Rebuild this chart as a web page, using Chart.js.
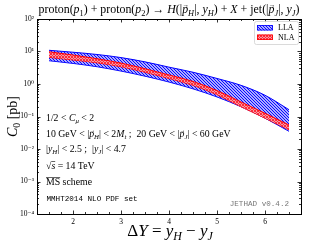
<!DOCTYPE html>
<html>
<head>
<meta charset="utf-8">
<script src="https://cdn.jsdelivr.net/npm/chart.js@4.4.1/dist/chart.umd.min.js"></script>
<style>
  html, body { margin: 0; padding: 0; background: #fff; }
  canvas { display: block; }
</style>
</head>
<body>
<canvas id="c" width="310" height="243"></canvas>
<script>
// C0 vs rapidity interval, Higgs + jet at 14 TeV.
// Bands are the mu-variation envelopes: upper / lower edge for each approach.
const deltaY = [1.5, 2, 2.5, 3, 3.5, 4, 4.5, 5, 5.5, 6, 6.5];
const llaUpper = [10.9, 9.5, 8.1, 6.5, 4.8, 3.3, 2.3, 1.48, 0.91, 0.45, 0.162];
const llaLower = [5.2, 4.3, 3.4, 2.5, 1.74, 1.15, 0.71, 0.40, 0.20, 0.089, 0.035];
const nlaUpper = [9.8, 7.8, 6.0, 4.4, 2.95, 1.9, 1.2, 0.63, 0.28, 0.126, 0.055];
const nlaLower = [6.6, 5.5, 4.5, 3.4, 2.3, 1.48, 0.91, 0.47, 0.20, 0.089, 0.039];

const xTicks = [2, 3, 4, 5, 6];
const yTickExps = [-4, -3, -2, -1, 0, 1, 2];
const legendLabels = ["LLA", "NLA"];

const SERIF = '"Liberation Serif", "DejaVu Serif", serif';
const MONO = '"Liberation Mono", "DejaVu Sans Mono", monospace';
const SUP = { "-": "⁻", "0": "⁰", "1": "¹", "2": "²", "3": "³", "4": "⁴" };

const ctx = document.getElementById("c").getContext("2d");

// ---------- Hatch fills ----------
function hatch(line, bg, cross) {
  const c = document.createElement("canvas");
  c.width = c.height = 3;
  const g = c.getContext("2d");
  if (bg) { g.fillStyle = bg; g.fillRect(0, 0, 3, 3); }
  g.fillStyle = line;
  for (let i = 0; i < 3; i++) {
    g.fillRect(i, i, 1, 1);
    if (cross) g.fillRect(2 - i, i, 1, 1);
  }
  return ctx.createPattern(c, "repeat");
}
const BLUE_FILL = hatch("#0a0aff", "rgba(70,70,255,0.45)", false);
const RED_FILL = hatch("#ff2a3a", "#f59aa4", true);

const pts = arr => deltaY.map((x, i) => ({ x, y: arr[i] }));

// ---------- Rich text (italic / subscript / vector / overline) ----------
function rich(g, parts, x, y, size, align, family) {
  const fam = family || SERIF;
  const fontFor = st => `${st.includes("i") ? "italic " : ""}${st.includes("b") ? size * 0.7 : size}px ${fam}`;
  g.textAlign = "left";
  g.textBaseline = "alphabetic";
  let total = 0;
  const widths = parts.map(([t, st = ""]) => { g.font = fontFor(st); const w = g.measureText(t).width; total += w; return w; });
  let cx = align === "center" ? x - total / 2 : align === "right" ? x - total : x;
  parts.forEach(([t, st = ""], i) => {
    g.font = fontFor(st);
    g.fillText(t, cx, y + (st.includes("b") ? size * 0.22 : 0));
    if (st.includes("v")) {
      g.font = `${size * 0.55}px ${fam}`;
      g.textAlign = "center";
      g.fillText("→", cx + widths[i] / 2 + size * 0.05, y - size * 0.5);
      g.textAlign = "left";
    }
    if (st.includes("o")) {
      g.fillRect(cx, y - size * 0.78, widths[i], Math.max(0.6, size * 0.06));
    }
    cx += widths[i];
  });
}

const TITLE = [["proton("], ["p", "i"], ["1", "b"], [") + proton("], ["p", "i"], ["2", "b"], [") → "],
  ["H", "i"], ["(|"], ["p", "iv"], ["H", "bi"], ["|, "], ["y", "i"], ["H", "bi"], [") + "], ["X", "i"],
  [" + jet(|"], ["p", "iv"], ["J", "bi"], ["|, "], ["y", "i"], ["J", "bi"], [")"]];
const NOTES = [
  [["1/2 < "], ["C", "i"], ["μ", "bi"], [" < 2"]],
  [["10 GeV < |"], ["p", "iv"], ["H", "bi"], ["| < 2"], ["M", "i"], ["t", "bi"], [" ;  20 GeV < |"], ["p", "iv"], ["J", "bi"], ["| < 60 GeV"]],
  [["|"], ["y", "i"], ["H", "bi"], ["| < 2.5 ;  |"], ["y", "i"], ["J", "bi"], ["| < 4.7"]],
  [["√"], ["s", "io"], [" = 14 TeV"]],
  [["MS", "o"], [" scheme"]],
];
const NOTE_Y = [121, 136.5, 152, 169, 185];

// ---------- Frame, inward ticks, labels, legend ----------
const decor = {
  id: "decor",
  afterDraw(chart) {
    const g = chart.ctx, a = chart.chartArea;
    const xs = chart.scales.x, ys = chart.scales.y;
    g.save();
    g.strokeStyle = "#000";
    g.lineWidth = 0.8;
    g.beginPath();
    const tick = (px, len, vertical) => {
      if (vertical) {
        g.moveTo(px, a.bottom); g.lineTo(px, a.bottom - len);
        g.moveTo(px, a.top); g.lineTo(px, a.top + len);
      } else {
        g.moveTo(a.left, px); g.lineTo(a.left + len, px);
        g.moveTo(a.right, px); g.lineTo(a.right - len, px);
      }
    };
    for (let v = 1.25; v <= 6.75 + 1e-9; v += 0.25) {
      tick(Math.round(xs.getPixelForValue(v)) + 0.5, Number.isInteger(v) ? 3.5 : 2, true);
    }
    for (let e = -4; e <= 1; e++) {
      for (let k = 2; k <= 9; k++) tick(Math.round(ys.getPixelForValue(k * 10 ** e)) + 0.5, 2, false);
    }
    yTickExps.forEach(e => tick(Math.round(ys.getPixelForValue(10 ** e)) + 0.5, 3.5, false));
    g.stroke();
    g.lineWidth = 1;
    g.strokeRect(Math.round(a.left) + 0.5, Math.round(a.top) + 0.5, Math.round(a.right - a.left), Math.round(a.bottom - a.top));

    g.fillStyle = "#000";
    rich(g, TITLE, 169, 13, 11.9, "center");
    rich(g, [["Δ"], ["Y", "i"], [" = "], ["y", "i"], ["H", "bi"], [" − "], ["y", "i"], ["J", "bi"]], 170, 236, 17, "center");
    g.save();
    g.translate(12, (a.top + a.bottom) / 2);
    g.rotate(-Math.PI / 2);
    rich(g, [["C", "i"], ["0", "b"], [" [pb]"]], 0, 5, 14, "center");
    g.restore();

    NOTES.forEach((p, i) => rich(g, p, 46, NOTE_Y[i], 9.8));
    rich(g, [["MMHT2014 NLO PDF set"]], 46.5, 200.5, 7.6, "left", MONO);
    g.fillStyle = "#777";
    rich(g, [["JETHAD v0.4.2"]], 289, 206, 7.6, "right", MONO);

    // legend box
    g.fillStyle = "rgba(255,255,255,0.85)";
    g.strokeStyle = "#d0d0d0";
    g.lineWidth = 0.8;
    g.beginPath();
    g.roundRect(254.5, 21.5, 44, 23, 2);
    g.fill(); g.stroke();
    const sw = [[BLUE_FILL, "#0000ff"], [RED_FILL, "#ff0000"]];
    legendLabels.forEach((lab, i) => {
      const y0 = 25 + i * 9.5;
      g.fillStyle = sw[i][0];
      g.fillRect(257, y0, 16, 5.5);
      g.strokeStyle = sw[i][1];
      g.strokeRect(257.5, y0 + 0.5, 15, 4.5);
      g.fillStyle = "#000";
      rich(g, [[lab]], 278, y0 + 5.2, 8);
    });
    g.restore();
  }
};

new Chart(ctx, {
  type: "line",
  data: {
    datasets: [
      { label: "NLA", data: pts(nlaUpper), fill: "+1", backgroundColor: RED_FILL, borderColor: "#ff0000" },
      { label: "NLA lo", data: pts(nlaLower), fill: false, borderColor: "#ff0000" },
      { label: "LLA", data: pts(llaUpper), fill: "+1", backgroundColor: BLUE_FILL, borderColor: "#0000ff" },
      { label: "LLA lo", data: pts(llaLower), fill: false, borderColor: "#0000ff" },
    ].map(d => ({ ...d, borderWidth: 1, pointRadius: 0, cubicInterpolationMode: "monotone" }))
  },
  options: {
    responsive: false, animation: false, devicePixelRatio: 1,
    layout: { padding: { top: 19, right: 9, left: 0, bottom: 0 } },
    plugins: { legend: { display: false }, tooltip: { enabled: false } },
    scales: {
      x: {
        type: "linear", min: 1.25, max: 6.75,
        afterBuildTicks: s => { s.ticks = xTicks.map(v => ({ value: v })); },
        afterFit: s => { s.height = 29; },
        grid: { display: false, drawTicks: false }, border: { display: false },
        ticks: { color: "#000", padding: 4, maxRotation: 0, autoSkip: false, font: { family: SERIF, size: 7.5 } }
      },
      y: {
        type: "logarithmic", min: 1e-4, max: 1e2,
        afterBuildTicks: s => { s.ticks = yTickExps.map(e => ({ value: 10 ** e })); },
        afterFit: s => { s.width = 37; },
        grid: { display: false, drawTicks: false }, border: { display: false },
        ticks: {
          color: "#000", padding: 3, autoSkip: false,
          font: { family: SERIF, size: 7.5 },
          callback: v => "10" + String(Math.round(Math.log10(v))).split("").map(c => SUP[c]).join("")
        }
      }
    }
  },
  plugins: [decor]
});
</script>
</body>
</html>
